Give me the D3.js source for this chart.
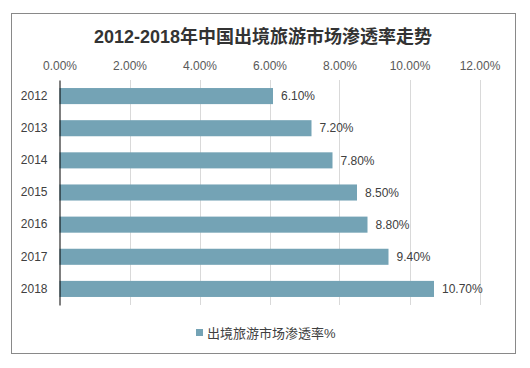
<!DOCTYPE html>
<html><head><meta charset="utf-8">
<script src="https://cdn.jsdelivr.net/npm/d3@7"></script>
<style>body{margin:0;background:#fff;}svg{display:block;}</style>
</head><body><svg id="c" width="530" height="368"></svg>
<script>
const categories = ["2012","2013","2014","2015","2016","2017","2018"];
const values = [6.10, 7.20, 7.80, 8.50, 8.80, 9.40, 10.70];
const ticks = [0,2,4,6,8,10,12];
const seriesName = "出境旅游市场渗透率%";
const title = "2012-2018年中国出境旅游市场渗透率走势";

const svg = d3.select("#c");
const font = "'Liberation Sans', Arial, 'Noto Sans CJK SC', sans-serif";
svg.append("rect").attr("x",11.5).attr("y",13.5).attr("width",504).attr("height",340)
  .attr("fill","#fff").attr("stroke","#898989").attr("stroke-width",1);

svg.append("text").attr("x",263).attr("y",43).attr("text-anchor","middle")
  .attr("font-family",font)
  .attr("font-weight","bold").attr("font-size",18).attr("fill","#333").text(title);

const x = d3.scaleLinear().domain([0,12]).range([59.5,479.5]);
const y = d3.scaleBand().domain(categories).range([80,305]).paddingInner(0.5).paddingOuter(0.25);

const g = svg.append("g");
g.selectAll("line.grid").data(ticks.slice(1)).join("line").attr("class","grid")
  .attr("x1",d=>Math.round(x(d))+0.5).attr("x2",d=>Math.round(x(d))+0.5)
  .attr("y1",80).attr("y2",305).attr("stroke","#d9d9d9");

const xa = svg.append("g").attr("transform","translate(0,80)")
  .call(d3.axisTop(x).tickValues(ticks).tickFormat(d=>d.toFixed(2)+"%").tickSize(0).tickPadding(0));
xa.select(".domain").remove();
xa.selectAll("text").attr("y",-10).attr("font-family",font).attr("font-size",12).attr("fill","#595959");

g.selectAll("rect.bar").data(values).join("rect").attr("class","bar")
  .attr("x",x(0)).attr("y",(d,i)=>y(categories[i]))
  .attr("width",d=>x(d)-x(0)).attr("height",y.bandwidth()).attr("fill","#74a3b5");

const ya = svg.append("g").attr("transform","translate(59.5,0)")
  .call(d3.axisLeft(y).tickSize(0).tickPadding(12));
ya.select(".domain").attr("stroke","#000");
ya.selectAll("text").attr("font-family",font).attr("font-size",12).attr("fill","#404040");

g.selectAll("text.lbl").data(values).join("text").attr("class","lbl")
  .attr("x",d=>x(d)+8).attr("y",(d,i)=>y(categories[i])+y.bandwidth()/2)
  .attr("dy","0.35em").attr("font-family",font).attr("font-size",12).attr("fill","#404040")
  .text(d=>d.toFixed(2)+"%");

svg.append("rect").attr("x",196).attr("y",329).attr("width",7).attr("height",7).attr("fill","#74a3b5");
svg.append("text").attr("x",207).attr("y",338).attr("font-family",font).attr("font-size",13)
  .attr("fill","#404040").text(seriesName);
</script></body></html>
